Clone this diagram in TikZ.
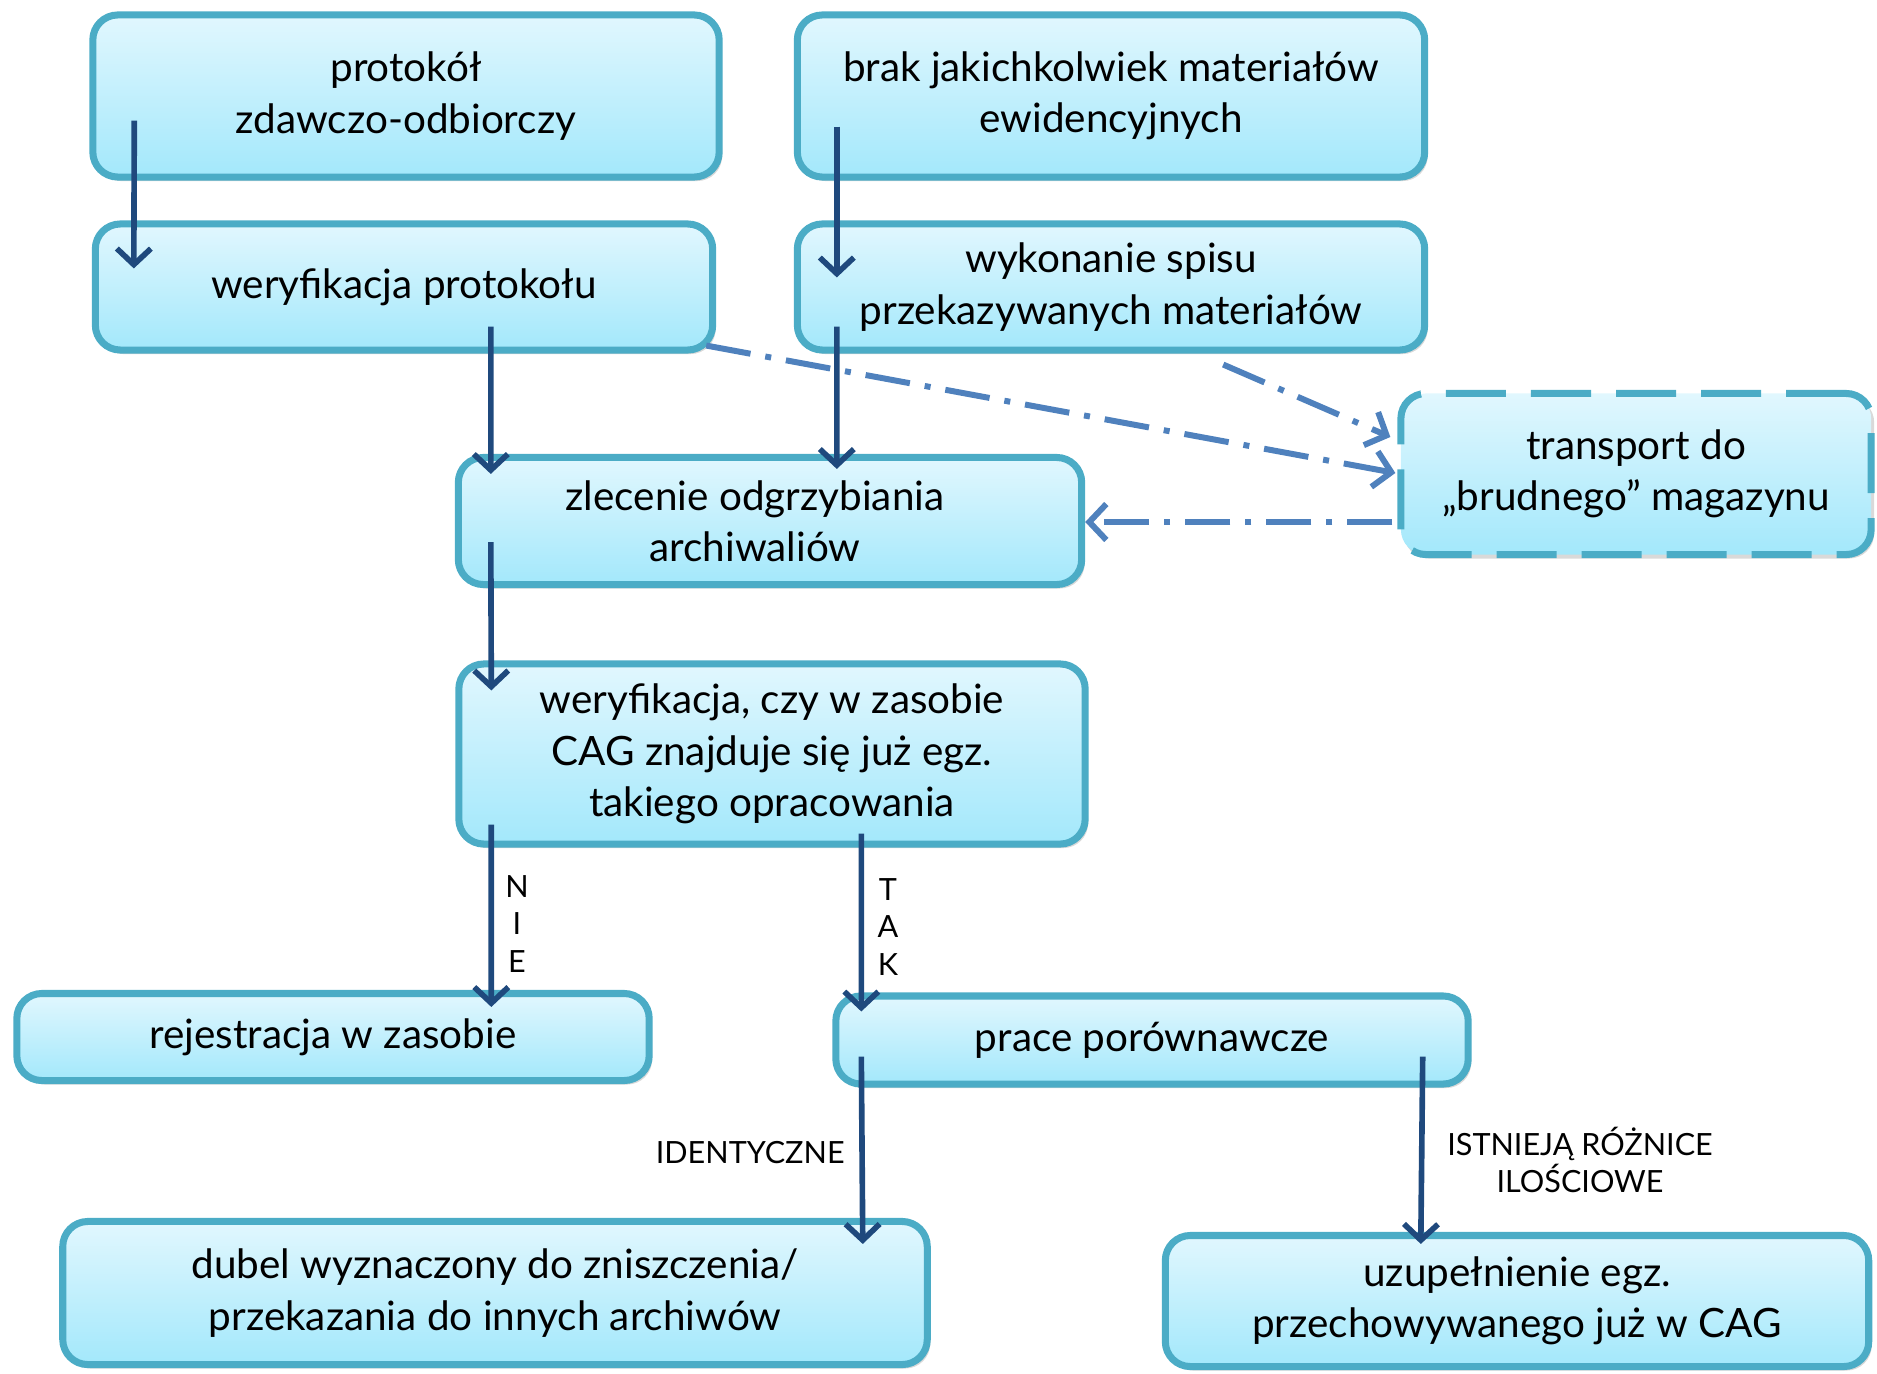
\documentclass[tikz,border=0pt]{standalone}
\usepackage{fontspec}
\setmainfont{Lato}
\usetikzlibrary{arrows.meta,calc,shadows}
\definecolor{boxline}{HTML}{4BACC6}
\definecolor{boxtop}{HTML}{E1F7FE}
\definecolor{boxbottom}{HTML}{A3E8FB}
\definecolor{flowblue}{HTML}{1F497D}
\definecolor{backblue}{HTML}{4F81BD}
\begin{document}
\begin{tikzpicture}[x=0.01cm,y=-0.01cm,
	box/.style={rectangle,rounded corners=0.25cm,draw=boxline,line width=2pt,top color=boxtop,bottom color=boxbottom,drop shadow={opacity=0.3,shadow xshift=0.03cm,shadow yshift=-0.04cm},align=center,inner sep=0pt,font=\fontsize{11.5}{14.6}\selectfont},
	flow/.style={draw=flowblue,line width=1.6pt,-{Straight Barb[length=0.16cm,width=0.34cm,line width=1.6pt]}},
	back/.style={draw=backblue,line width=1.7pt,dash pattern=on 0.45cm off 0.15cm on 0.06cm off 0.15cm,-{Straight Barb[length=0.17cm,width=0.36cm,line width=1.7pt]}},
	lbl/.style={align=center,font=\fontsize{8.7}{10.6}\selectfont}]
	\useasboundingbox (0,0) rectangle (1877,1373);
	\begin{scope}
		\node[box,minimum width=6.26cm,minimum height=1.62cm] (b1) at (406,96) {protokół\\zdawczo-odbiorczy};
		\node[box,minimum width=6.27cm,minimum height=1.62cm] (b2) at (1111,96) {brak jakichkolwiek materiałów\\ewidencyjnych};
		\node[box,minimum width=6.17cm,minimum height=1.26cm] (b3) at (404,287) {weryfikacja protokołu};
		\node[box,minimum width=6.27cm,minimum height=1.26cm] (b4) at (1111,287) {wykonanie spisu\\przekazywanych materiałów};
		\node[box,dash pattern=on 0.6cm off 0.25cm,minimum width=4.7cm,minimum height=1.61cm] (b5) at (1636,474) {transport do\\„brudnego” magazynu};
		\node[box,minimum width=6.23cm,minimum height=1.27cm] (b6) at (770,521) {zlecenie odgrzybiania\hspace*{0.3cm}\\archiwaliów\hspace*{0.3cm}};
		\node[box,minimum width=6.26cm,minimum height=1.8cm] (b7) at (772,754) {weryfikacja, czy w zasobie\\CAG znajduje się już egz.\\takiego opracowania};
		\node[box,minimum width=6.32cm,minimum height=0.87cm] (b8) at (333,1037) {rejestracja w zasobie};
		\node[box,minimum width=6.32cm,minimum height=0.88cm] (b9) at (1152,1040) {prace porównawcze};
		\node[box,minimum width=8.64cm,minimum height=1.43cm] (b10) at (495,1293) {dubel wyznaczony do zniszczenia/\\przekazania do innych archiwów};
		\node[box,minimum width=7.03cm,minimum height=1.31cm] (b11) at (1517,1301) {uzupełnienie egz.\\przechowywanego już w CAG};
		
		\draw[flow] ($(b1.south west)+(45,-60)$) -- ($(b3.north west)+(42,48)$);
		\draw[flow] ($(b2.south west)+(43,-54)$) -- ($(b4.north west)+(43,57)$);
		\draw[flow] ($(b3.south west)+(399,-27)$) -- ($(b6.north west)+(36,20)$);
		\draw[flow] ($(b4.south west)+(43,-27)$) -- ($(b6.north west)+(382,15)$);
		\draw[flow] ($(b6.south west)+(36,-46)$) -- ($(b7.north west)+(36,30)$);
		\draw[flow] ($(b7.south west)+(36,-23)$) -- ($(b8.north west)+(478,17)$);
		\draw[flow] ($(b7.south west)+(406,-14)$) -- ($(b9.north west)+(29,19)$);
		\draw[flow] ($(b9.south west)+(29,-31)$) -- ($(b10.north east)+(-68,26)$);
		\draw[flow] ($(b9.south east)+(-49,-31)$) -- ($(b11.north west)+(259,12)$);
		
		%\draw[back] (b3) -- (b5);
		\draw[back] ($(b3.south east)+(-10,-8)$) -- ($(b5.west)+(-2,-1)$);
		\draw[back] ($(b4.south east)+(-205,11)$) -- ($(b5.west)+(-7,-37)$);
		\draw[back] ($(b5.west)+(-5,48)$) -- ($(b6.east)+(0,1)$);
		
		\node[lbl] (nie) at (517,924) {N\\I\\E};
		\node[lbl] (tak) at (888,927) {T\\A\\K};
		\node[lbl,anchor=east] (ident) at (857,1153) {IDENTYCZNE};
		\node[lbl] (istn) at (1580,1160) {ISTNIEJĄ RÓŻNICE\\ILOŚCIOWE};
	\end{scope}
\end{tikzpicture}
\end{document}
